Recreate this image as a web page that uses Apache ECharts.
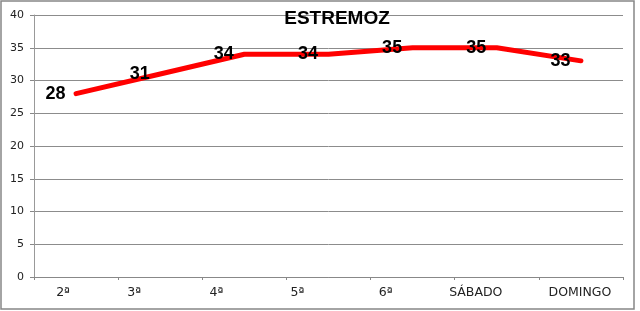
<!DOCTYPE html>
<html><head><meta charset="utf-8">
<script src="https://cdn.jsdelivr.net/npm/echarts@6/dist/echarts.min.js"></script>
<style>html,body{margin:0;padding:0;background:#fff}#c{width:640px;height:311px}</style>
</head><body><div id="c"></div>
<script>
const titleText = 'ESTREMOZ';
const categories = ['2ª', '3ª', '4ª', '5ª', '6ª', 'SÁBADO', 'DOMINGO'];
const temps = [28, 31, 34, 34, 35, 35, 33];
const yTicks = [0, 5, 10, 15, 20, 25, 30, 35, 40];
// visual nudge of category labels (px to the left), styling only
const labelShift = [13, 26, 28, 31, 27, 21, 1];

const chart = echarts.init(document.getElementById('c'), null, {renderer: 'canvas'});
chart.setOption({
  animation: false,
  backgroundColor: '#fff',
  title: {
    text: titleText, left: 337, top: 9, textAlign: 'center', padding: 0,
    textStyle: {fontFamily: 'Liberation Sans', fontWeight: 'bold', fontSize: 19, color: '#000'}
  },
  graphic: [{
    type: 'rect', shape: {x: 1, y: 1, width: 633, height: 308},
    style: {fill: 'none', stroke: '#868686', lineWidth: 1.5}, silent: true, z: 100
  }],
  grid: {left: 34, right: 17, top: 15, bottom: 34},
  xAxis: {
    type: 'category',
    data: categories.map((c, i) => ({value: c, textStyle: {padding: [0, labelShift[i] * 2, 0, 0]}})),
    boundaryGap: true,
    axisLine: {lineStyle: {color: '#888', width: 1}},
    axisTick: {show: true, length: 3, alignWithLabel: false, lineStyle: {color: '#888'}},
    axisLabel: {interval: 0, margin: 9, fontFamily: 'DejaVu Sans', fontSize: 12.5, color: '#222'},
    splitLine: {show: false}
  },
  yAxis: {
    type: 'value', min: yTicks[0], max: yTicks[yTicks.length - 1], interval: yTicks[1] - yTicks[0],
    axisLine: {show: true, lineStyle: {color: '#999', width: 1}},
    axisTick: {show: true, length: 4, lineStyle: {color: '#888'}},
    axisLabel: {margin: 10, fontFamily: 'DejaVu Sans', fontSize: 11, color: '#222'},
    splitLine: {lineStyle: {color: '#8c8c8c', width: 1}}
  },
  series: [{
    type: 'line', data: temps,
    symbol: 'circle', symbolSize: 1, showSymbol: true,
    itemStyle: {color: '#ff0000'},
    lineStyle: {color: '#ff0000', width: 5, cap: 'round', join: 'round'},
    label: {
      show: true, position: 'left', distance: 10,
      fontFamily: 'Liberation Sans', fontWeight: 'bold', fontSize: 18, color: '#000'
    },
    z: 3
  }]
});
</script></body></html>
